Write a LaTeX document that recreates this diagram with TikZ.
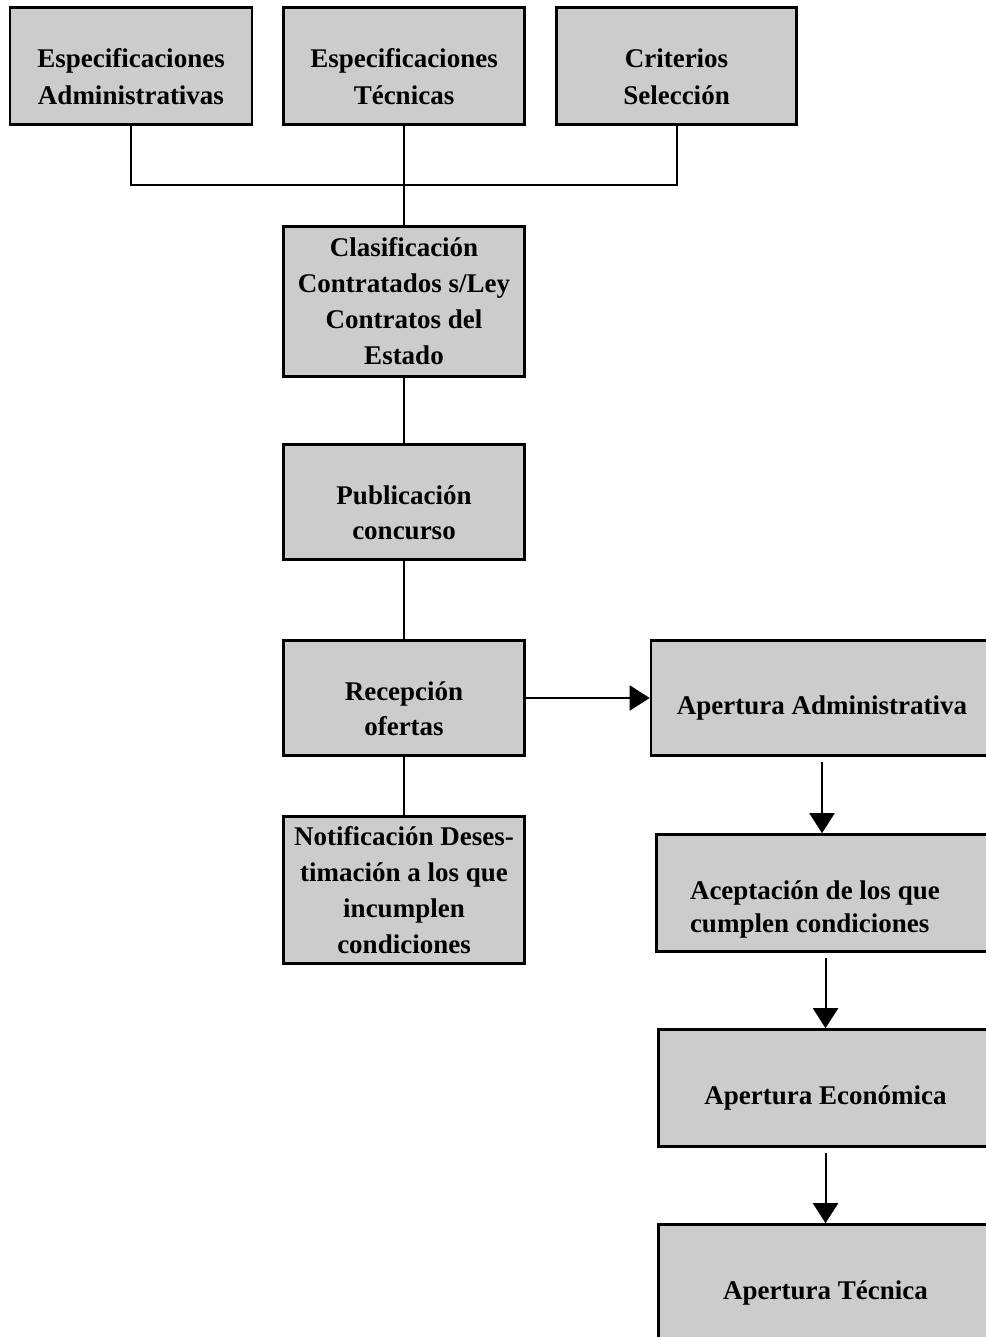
\documentclass[tikz,border=0pt]{standalone}
\usepackage{fontspec}
\setmainfont{Liberation Serif}
\usepackage{xcolor}
\usetikzlibrary{positioning,calc,arrows.meta}
\definecolor{gris}{RGB}{204,204,204}
\newcommand{\hueco}[1]{\rule{0pt}{#1}}
\tikzset{%
  caja/.style={
    rectangle,
    draw,
    line width=2.6pt,
    fill=gris,
    inner sep=0pt,
    align=center,
    font=\bfseries\fontsize{27}{35}\selectfont
  },
  arriba/.style={
    font=\bfseries\fontsize{27}{37}\selectfont
  },
  larga/.style={
    font=\bfseries\fontsize{27}{36}\selectfont
  },
  linea/.style={line width=2pt},
  flecha/.style={line width=2pt, -{Triangle[width=25pt,length=20pt]}},
}

\begin{document}
\begin{tikzpicture}[x=1pt, y=-1pt]
        \useasboundingbox (0,0) rectangle (985,1337);

        \foreach \n/\x/\w/\t in {espAdm/131/242/{Especificaciones\\Administrativas},
                                  espTec/404/241/{Especificaciones\\Técnicas},
                                  critSel/676.5/240/{Criterios\\Selección}}
            \node [caja, arriba, minimum width=\w pt, minimum height=117pt] (\n) at (\x,66) {\hueco{40pt}\t};

        \node [caja, larga, minimum width=241pt, minimum height=150pt] (clasif) at (404,301.5)
            {Clasificación\\Contratados s/Ley\\Contratos del\\Estado};
        \node [caja, minimum width=241pt, minimum height=115pt] (public) at (404,502)
            {\hueco{40pt}Publicación\\concurso};
        \node [caja, minimum width=241pt, minimum height=115pt] (recep) at (404,698)
            {\hueco{40pt}Recepción\\ofertas};
        \node [caja, larga, minimum width=241pt, minimum height=147pt] (notif) at (404,890)
            {Notificación Deses-\\timación a los que\\incumplen\\condiciones};

        \node [caja, minimum width=342pt, minimum height=115pt] (apAdm) at (822,698)
            {\hueco{38pt}Apertura Administrativa};
        \node [caja, font=\bfseries\fontsize{27}{33}\selectfont, text width=269pt, align=flush left,
               minimum width=336pt, minimum height=117pt] (acept) at (824.5,893)
            {\hueco{51pt}Aceptación de los que\\cumplen condiciones};
        \node [caja, minimum width=334pt, minimum height=117pt] (apEco) at (825.5,1088)
            {\hueco{38pt}Apertura Económica};
        \node [caja, minimum width=334pt, minimum height=117pt] (apTec) at (825.5,1283)
            {\hueco{38pt}Apertura Técnica};

        \coordinate (union) at (404,185);
        \draw [linea] (espAdm.south) |- (union) -| (critSel.south);
        \draw [linea] (espTec.south) -- (clasif.north);
        \foreach \a/\b in {clasif/public, public/recep, recep/notif}
            \draw [linea] (\a.south) -- (\b.north);

        \draw [flecha] (recep.east) -- (apAdm.west);
        \draw [flecha] ($(apAdm.south)+(0,5)$) -- (apAdm.south |- acept.north);
        \draw [flecha] ($(acept.south -| apEco.north)+(0,5)$) -- (apEco.north);
        \draw [flecha] ($(apEco.south)+(0,5)$) -- (apTec.north);
\end{tikzpicture}
\end{document}
